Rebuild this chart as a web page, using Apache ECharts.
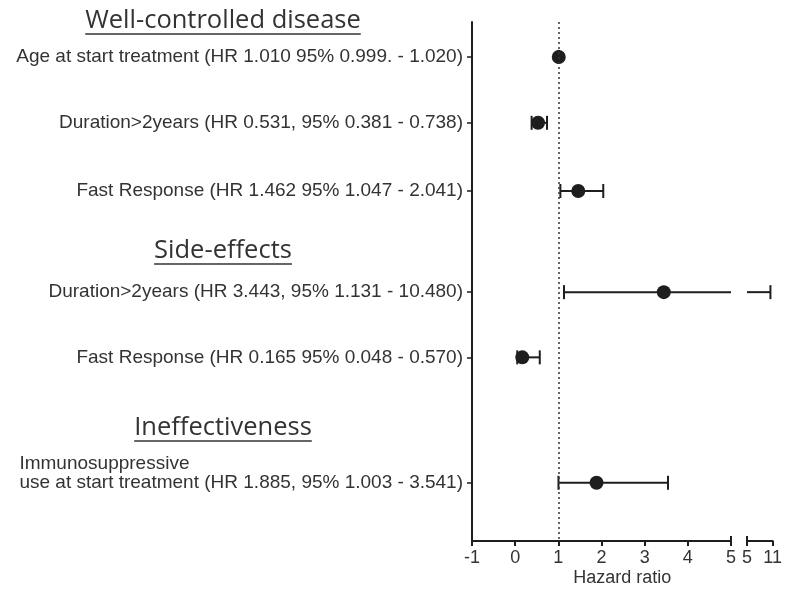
<!DOCTYPE html>
<html>
<head>
<meta charset="utf-8">
<script src="https://cdn.jsdelivr.net/npm/echarts@6/dist/echarts.min.js"></script>
<style>
  html, body { margin: 0; padding: 0; background: #fff; }
  #chart { width: 785px; height: 591px; }
</style>
</head>
<body>
<div id="chart"></div>
<script>
// Forest plot: hazard ratios with 95% confidence intervals, broken x axis (-1..5 | 5..11)
const rowLabels = [
  'Age at start treatment (HR 1.010 95% 0.999. - 1.020)',
  'Duration>2years (HR 0.531, 95% 0.381 - 0.738)',
  'Fast Response (HR 1.462 95% 1.047 - 2.041)',
  'Duration>2years (HR 3.443, 95% 1.131 - 10.480)',
  'Fast Response (HR 0.165 95% 0.048 - 0.570)',
  'use at start treatment (HR 1.885, 95% 1.003 - 3.541)'
];
const rowLabelTopLine = 'Immunosuppressive';   // first line of the last row's label
const hr    = [1.010, 0.531, 1.462, 3.443, 0.165, 1.885];
const ciLow = [0.999, 0.381, 1.047, 1.131, 0.048, 1.003];
const ciHigh= [1.020, 0.738, 2.041, 10.480, 0.570, 3.541];
const groupTitles = ['Well-controlled disease', 'Side-effects', 'Ineffectiveness'];
const xTicksMain = [-1, 0, 1, 2, 3, 4, 5];
const xTicksHigh = [5, 11];
const xAxisTitle = 'Hazard ratio';

// vertical layout of rows / group titles, in row units along the (inverted) y axis
const rowSlot = [1.05, 3.03, 5.08, 8.12, 10.08, 13.85];
const titleSlot = [-0.03, 6.88, 12.2];
const slotMax = 15.6;

const TEXT = '#333';
const INK = '#1e1e1e';
const LABEL_SIZE = 19;
const AXIS_SIZE = 18;
const labelFont = LABEL_SIZE + 'px "Liberation Sans", Arial, sans-serif';
const axisFont = AXIS_SIZE + 'px "Liberation Sans", Arial, sans-serif';
const titleFont = '25.5px "Open Sans", sans-serif';

function measure(text, font) {
  const c = document.createElement('canvas').getContext('2d');
  c.font = font;
  return c.measureText(text).width;
}

function errorBarRenderer(min, max) {
  return function (params, api) {
    const lo = api.value(0), hi = api.value(1), y = api.value(2);
    if (hi < min || lo > max) return null;
    const a = Math.max(lo, min), b = Math.min(hi, max);
    const p1 = api.coord([a, y]), p2 = api.coord([b, y]);
    const half = 7;
    const style = { stroke: INK, lineWidth: 2 };
    const children = [{ type: 'line', shape: { x1: p1[0], y1: p1[1], x2: p2[0], y2: p2[1] }, style }];
    if (lo >= min) children.push({ type: 'line', shape: { x1: p1[0], y1: p1[1] - half, x2: p1[0], y2: p1[1] + half }, style });
    if (hi <= max) children.push({ type: 'line', shape: { x1: p2[0], y1: p2[1] - half, x2: p2[0], y2: p2[1] + half }, style });
    return { type: 'group', children };
  };
}

const barData = hr.map((v, i) => [ciLow[i], ciHigh[i], rowSlot[i]]);
const pointData = hr.map((v, i) => [v, rowSlot[i]]);

const axisLineStyle = { color: INK, width: 2 };
function xAxisBase(gridIndex, ticks) {
  return {
    type: 'value', gridIndex,
    min: ticks[0], max: ticks[ticks.length - 1],
    interval: ticks[1] - ticks[0],
    axisLine: { show: true, onZero: false, lineStyle: axisLineStyle },
    axisTick: { show: true, length: 5, lineStyle: { color: INK, width: 2 } },
    axisLabel: { show: true, color: TEXT, fontSize: AXIS_SIZE, fontFamily: 'Liberation Sans', margin: 8,
                 showMinLabel: true, showMaxLabel: true },
    splitLine: { show: false }
  };
}
// short inward marks where the axis is broken
function breakMarkAxis(gridIndex, ticks, at) {
  return {
    type: 'value', gridIndex, position: 'bottom',
    min: ticks[0], max: ticks[ticks.length - 1],
    axisLine: { show: false, onZero: false },
    axisTick: { show: true, inside: true, length: 5, customValues: [at], lineStyle: { color: INK, width: 2 } },
    axisLabel: { show: false },
    splitLine: { show: false }
  };
}

const chart = echarts.init(document.getElementById('chart'), null, { renderer: 'canvas' });

const option = {
  animation: false,
  backgroundColor: '#fff',
  grid: [
    { left: 472, top: 22, width: 259, height: 519 },
    { left: 747, top: 22, width: 29, height: 519 }
  ],
  xAxis: [
    xAxisBase(0, xTicksMain),
    xAxisBase(1, xTicksHigh),
    breakMarkAxis(0, xTicksMain, xTicksMain[xTicksMain.length - 1]),
    breakMarkAxis(1, xTicksHigh, xTicksHigh[0])
  ],
  yAxis: [
    {
      type: 'value', gridIndex: 0, inverse: true, min: 0, max: slotMax,
      axisLine: { show: true, onZero: false, lineStyle: axisLineStyle },
      axisTick: { show: true, length: 5, customValues: rowSlot, lineStyle: { color: INK, width: 1.5 } },
      axisLabel: {
        show: true, customValues: rowSlot, margin: 9,
        color: TEXT, fontSize: LABEL_SIZE, fontFamily: 'Liberation Sans',
        formatter: v => {
          const i = rowSlot.findIndex(s => Math.abs(s - v) < 1e-6);
          return i >= 0 ? rowLabels[i] : '';
        }
      },
      splitLine: { show: false }
    },
    { type: 'value', gridIndex: 1, inverse: true, min: 0, max: slotMax, show: false }
  ],
  series: [
    {
      type: 'custom', xAxisIndex: 0, yAxisIndex: 0,
      renderItem: errorBarRenderer(xTicksMain[0], xTicksMain[xTicksMain.length - 1]),
      data: barData, silent: true, z: 2,
      markLine: {
        silent: true, symbol: 'none', label: { show: false },
        lineStyle: { type: [2, 3], color: '#333', width: 1.5 },
        data: [{ xAxis: 1 }]
      }
    },
    {
      type: 'custom', xAxisIndex: 1, yAxisIndex: 1,
      renderItem: errorBarRenderer(xTicksHigh[0], xTicksHigh[xTicksHigh.length - 1]),
      data: barData, silent: true, z: 2
    },
    {
      type: 'scatter', xAxisIndex: 0, yAxisIndex: 0,
      symbol: 'circle', symbolSize: 14,
      itemStyle: { color: INK, opacity: 1 },
      data: pointData.filter(d => d[0] <= xTicksMain[xTicksMain.length - 1]), z: 3
    }
  ]
};
chart.setOption(option);

// group titles (underlined), first line of the last label, x-axis title
const titleCenterX = 223;
const graphics = [];
groupTitles.forEach((t, i) => {
  const y = chart.convertToPixel({ yAxisIndex: 0 }, titleSlot[i]);
  const w = measure(t, titleFont);
  graphics.push({
    type: 'text', x: titleCenterX, y: y,
    style: { text: t, font: titleFont, fill: TEXT, align: 'center', verticalAlign: 'middle' }
  });
  graphics.push({
    type: 'line', shape: { x1: titleCenterX - w / 2, y1: y + 13, x2: titleCenterX + w / 2, y2: y + 13 },
    style: { stroke: TEXT, lineWidth: 1.5 }
  });
});
const axisX = chart.convertToPixel({ xAxisIndex: 0 }, xTicksMain[0]);
const lastY = chart.convertToPixel({ yAxisIndex: 0 }, rowSlot[rowSlot.length - 1]);
const lastW = measure(rowLabels[rowLabels.length - 1], labelFont);
graphics.push({
  type: 'text', x: axisX - 9 - lastW, y: lastY - 19,
  style: { text: rowLabelTopLine, font: labelFont, fill: TEXT, align: 'left', verticalAlign: 'middle' }
});
const xa = chart.convertToPixel({ xAxisIndex: 0 }, xTicksMain[0]);
const xb = chart.convertToPixel({ xAxisIndex: 1 }, xTicksHigh[xTicksHigh.length - 1]);
graphics.push({
  type: 'text', x: (xa + xb) / 2, y: 578,
  style: { text: xAxisTitle, font: axisFont, fill: TEXT, align: 'center', verticalAlign: 'middle' }
});
chart.setOption({ graphic: graphics });
</script>
</body>
</html>
